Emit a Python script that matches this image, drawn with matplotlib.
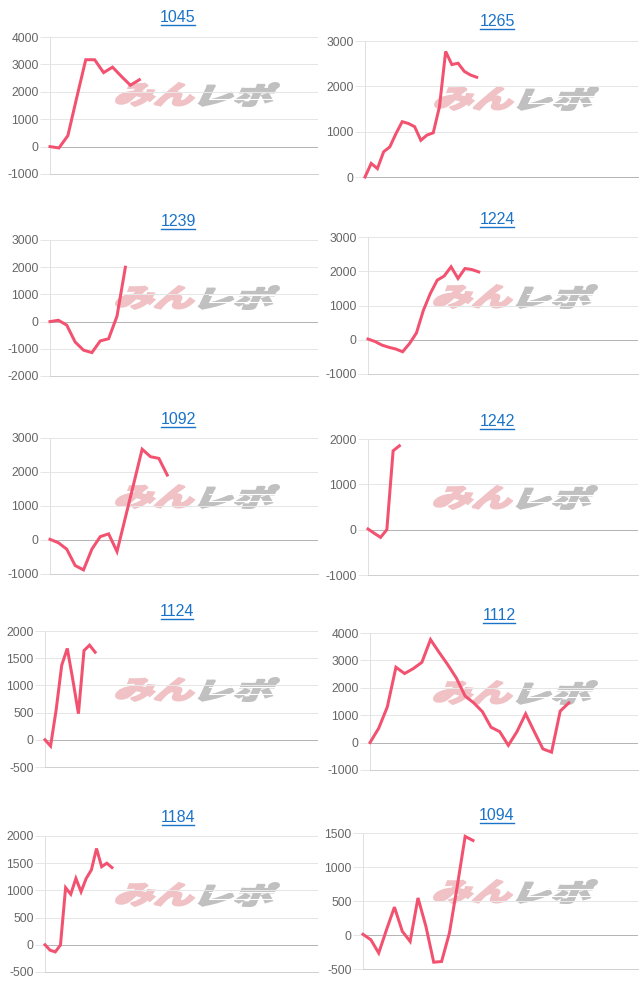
import numpy as np
import matplotlib
matplotlib.use('Agg')
import matplotlib.pyplot as plt
from matplotlib.lines import Line2D
from matplotlib.patches import PathPatch
from matplotlib.textpath import TextPath
from matplotlib.font_manager import FontProperties
from matplotlib.transforms import Affine2D

plt.rcParams['font.family'] = ['Liberation Sans', 'DejaVu Sans']
plt.rcParams['axes.unicode_minus'] = False

# chart titles (machine numbers)
titles = ['1045', '1265', '1239', '1224', '1092', '1242', '1124', '1112', '1184', '1094']

# values
v1045 = [0, -50, 400, 1800, 3170, 3170, 2700, 2900, 2560, 2240, 2440]
v1265 = [0, 300, 185, 555, 665, 960, 1220, 1180, 1110, 810, 925, 975, 1550, 2770, 2480, 2510, 2330, 2250, 2200]
v1239 = [0, 50, -130, -750, -1050, -1140, -710, -630, 200, 2000]
v1224 = [20, -50, -155, -220, -270, -350, -110, 200, 860, 1350, 1740, 1860, 2130, 1790, 2080, 2050, 1980]
v1092 = [20, -80, -270, -750, -880, -270, 100, 180, -340, 660, 1660, 2670, 2450, 2400, 1910]
v1242 = [15, -80, -170, 0, 1740, 1850]
v1124 = [0, -115, 550, 1370, 1680, 1100, 480, 1640, 1740, 1610]
v1112 = [0, 520, 1300, 2750, 2520, 2700, 2930, 3760, 3290, 2840, 2350, 1700, 1450, 1130, 560, 400,
         -100, 400, 1050, 400, -230, -350, 1150, 1450]
v1184 = [0, -100, -130, -5, 1050, 930, 1220, 975, 1220, 1375, 1770, 1435, 1500, 1420]
v1094 = [10, -70, -265, 80, 410, 55, -95, 545, 130, -400, -390, 30, 720, 1450, 1390]
series = [v1045, v1265, v1239, v1224, v1092, v1242, v1124, v1112, v1184, v1094]

# number of x slots on each chart's axis
x_slots = [30, 44, 32, 39, 32, 43, 49, 31, 53, 35]
# y axis: min, max, step
y_min = [-1000, 0, -2000, -1000, -1000, -1000, -500, -1000, -500, -500]
y_max = [4000, 3000, 3000, 3000, 3000, 2000, 2000, 4000, 2000, 1500]
y_step = [1000, 1000, 1000, 1000, 1000, 1000, 500, 1000, 500, 500]

W, H = 640, 990
LINE = '#f25270'
LINK = '#1a73c8'

# layout in pixels: left, top, right, bottom
boxes = [(50, 37, 318, 174), (365, 41, 638, 177), (50, 240, 318, 376), (368, 237, 638, 374),
         (50, 438, 318, 574), (368, 439, 638, 575), (45, 631, 318, 767), (370, 633, 638, 770),
         (45, 836, 318, 972), (363, 833, 638, 969)]
title_x = [178, 497, 178, 497, 178, 497, 177, 499, 178, 497]
title_base = [22.5, 26, 226, 224, 424, 426, 616, 620, 822, 820]
logo_c = [(197, 95), (516, 99), (197, 298), (515, 297), (197, 497), (515, 498),
          (197, 690), (515, 693), (197, 895), (515, 892)]

fig = plt.figure(figsize=(W / 100, H / 100), dpi=100)
px = 0.72  # one pixel in points

fp = FontProperties(family='Noto Sans CJK JP', weight='black')


def put_text_path(s, x0, y0, x1, y1, color):
    tp = TextPath((0, 0), s, size=100, prop=fp)
    tp = Affine2D().skew_deg(16, 0).transform_path(tp)
    ext = tp.get_extents()
    tr = (Affine2D().translate(-ext.x0, -ext.y0)
          .scale((x1 - x0) / ext.width, (y1 - y0) / ext.height)
          .translate(x0, H - y1).scale(1 / W, 1 / H))
    fig.add_artist(PathPatch(tr.transform_path(tp), transform=fig.transFigure,
                             facecolor=color, edgecolor=color, lw=1.4,
                             joinstyle='miter', zorder=-2))


def draw_logo(cx, cy):
    put_text_path('みん', cx - 81, cy - 12, cx - 3, cy + 11, '#f0c2c5')
    put_text_path('レポ', cx + 2, cy - 12, cx + 82, cy + 11, '#c0c0c0')
    # speed lines through the grey part
    for dy in (-3, 4):
        fig.add_artist(Line2D([(cx + 12) / W, (cx + 86) / W], [1 - (cy + dy) / H] * 2,
                              color='white', lw=0.8, zorder=-1))


for i in range(10):
    l, t, r, b = boxes[i]
    ax = fig.add_axes([l / W, 1 - b / H, (r - l) / W, (b - t) / H])
    ax.set_facecolor('none')
    vals = series[i]
    ax.plot(np.arange(len(vals)), vals, color=LINE, lw=3 * px, clip_on=False,
            solid_joinstyle='miter', zorder=3)
    ax.set_xlim(0, x_slots[i])
    ax.set_ylim(y_min[i], y_max[i])
    ax.set_yticks(np.arange(y_min[i], y_max[i] + 1, y_step[i]))
    ax.set_xticks([])
    ax.yaxis.grid(True, color='#e6e6e6', lw=px)
    ax.set_axisbelow(True)
    if y_min[i] < 0:
        ax.axhline(0, color='#b5b5b5', lw=px, zorder=1)
    ax.tick_params(axis='y', length=10 * px, width=px, color='#e6e6e6',
                   labelcolor='#666666', labelsize=8.7, pad=1)
    for s in ('top', 'right'):
        ax.spines[s].set_visible(False)
    ax.spines['left'].set_color('#e0e0e0')
    ax.spines['left'].set_linewidth(px)
    ax.spines['bottom'].set_color('#b5b5b5' if y_min[i] == 0 else '#d0d0d0')
    ax.spines['bottom'].set_linewidth(px)

    draw_logo(*logo_c[i])

    fig.text(title_x[i] / W, 1 - title_base[i] / H, titles[i], color=LINK,
             fontsize=11.5, ha='center', va='baseline')

# underline the titles like links
fig.canvas.draw()
renderer = fig.canvas.get_renderer()
for txt in list(fig.texts):
    bb = txt.get_window_extent(renderer)
    yb = txt.get_position()[1] * H - 2.5
    fig.add_artist(Line2D([(bb.x0 + 1) / W, (bb.x1 - 1) / W], [yb / H, yb / H], color=LINK, lw=1.0))

fig.savefig('out.png', dpi=100)
